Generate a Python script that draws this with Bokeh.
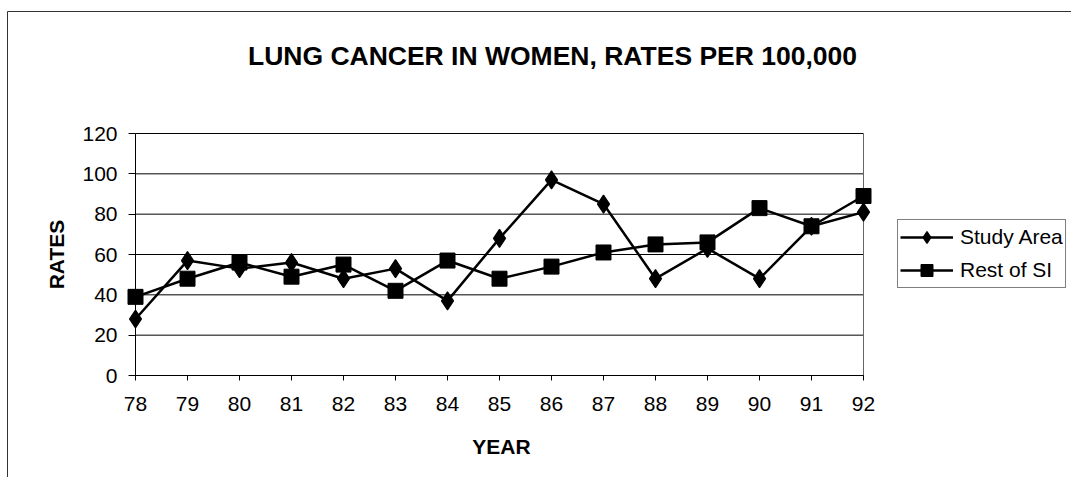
from bokeh.plotting import figure
from bokeh.models import (Range1d, FixedTicker, Legend, LegendItem, Label,
                          LinearAxis)
from bokeh.embed import file_html
from bokeh.resources import INLINE

years = [78, 79, 80, 81, 82, 83, 84, 85, 86, 87, 88, 89, 90, 91, 92]
study_area = [28, 57, 53, 56, 48, 53, 37, 68, 97, 85, 48, 63, 48, 74, 81]
rest_of_si = [39, 48, 56, 49, 55, 42, 57, 48, 54, 61, 65, 66, 83, 74, 89]
y_ticks = [0, 20, 40, 60, 80, 100, 120]

FONT = "Liberation Sans"

# layout (pixels on the canvas)
W, H = 1071, 477
PLOT_L, PLOT_R, PLOT_T, PLOT_B = 135, 863, 133, 375
x0, x1 = years[0], years[-1]
y0, y1 = y_ticks[0], y_ticks[-1]
px_x = (PLOT_R - PLOT_L) / (x1 - x0)
px_y = (PLOT_B - PLOT_T) / (y1 - y0)


def dx(px):
    return x0 + (px - PLOT_L) / px_x


def dy(py):
    return y0 + (PLOT_B - py) / px_y


p = figure(width=W, height=H, output_backend="svg", toolbar_location=None,
           x_range=Range1d(dx(0), dx(W)), y_range=Range1d(dy(H), dy(0)),
           x_axis_location=None, y_axis_location=None,
           min_border_left=0, min_border_right=0,
           min_border_top=0, min_border_bottom=0)
p.outline_line_color = None
p.xgrid.grid_line_color = None
p.ygrid.grid_line_color = None

# chart border (top and left edges of the chart area)
p.segment(x0=[dx(7), dx(7)], y0=[dy(11), dy(11)], x1=[dx(W + 10), dx(7)],
          y1=[dy(11), dy(H + 10)], line_color="#333333", line_width=1)

# horizontal gridlines of the plot area and its right border
p.segment(x0=[x0] * len(y_ticks), x1=[x1] * len(y_ticks), y0=y_ticks, y1=y_ticks,
          line_color="black", line_width=1)
p.segment(x0=[x1], x1=[x1], y0=[y0], y1=[y1], line_color="#666666", line_width=1)

xaxis = LinearAxis(fixed_location=y0, bounds=(x0, x1), ticker=FixedTicker(ticks=years))
yaxis = LinearAxis(fixed_location=x0, bounds=(y0, y1), ticker=FixedTicker(ticks=y_ticks))
for ax in (xaxis, yaxis):
    ax.axis_line_color = "black"
    ax.axis_line_width = 1
    ax.major_tick_line_color = "black"
    ax.major_tick_in = 0
    ax.minor_tick_line_color = None
    ax.major_label_text_font = FONT
    ax.major_label_text_font_size = "21px"
    ax.major_label_text_color = "black"
xaxis.major_tick_out = 5
xaxis.major_label_standoff = 16
yaxis.major_tick_out = 7
yaxis.major_label_standoff = 11
p.add_layout(xaxis, "below")
p.add_layout(yaxis, "left")

l1 = p.line(years, study_area, line_color="black", line_width=2.5)
m1 = p.scatter(years, study_area, marker="diamond", size=18,
               fill_color="black", line_color="black", line_width=1.2)
l2 = p.line(years, rest_of_si, line_color="black", line_width=2.5)
m2 = p.scatter(years, rest_of_si, marker="square", size=15,
               fill_color="black", line_color="black")

legend = Legend(items=[LegendItem(label="Study Area", renderers=[l1, m1]),
                       LegendItem(label="Rest of SI", renderers=[l2, m2])],
                location=(897, H - 288))
legend.label_text_font = FONT
legend.label_text_font_size = "21px"
legend.label_text_color = "black"
legend.glyph_width = 53
legend.glyph_height = 30
legend.label_standoff = 7
legend.spacing = 3
legend.padding = 2
legend.margin = 0
legend.border_line_color = "black"
legend.border_line_width = 1
legend.background_fill_color = "white"
p.add_layout(legend, "center")

p.add_layout(Label(x=dx(552), y=dy(55),
                   text="LUNG CANCER IN WOMEN, RATES PER 100,000",
                   text_font=FONT, text_font_size="26.5px", text_font_style="bold",
                   text_align="center", text_baseline="middle", text_color="black"))
p.add_layout(Label(x=dx(56), y=dy(254), text="RATES", angle=1.5707963,
                   text_font=FONT, text_font_size="21px", text_font_style="bold",
                   text_align="center", text_baseline="middle", text_color="black"))
p.add_layout(Label(x=dx(501), y=dy(446), text="YEAR",
                   text_font=FONT, text_font_size="21px", text_font_style="bold",
                   text_align="center", text_baseline="middle", text_color="black"))

open("out.html", "w").write(file_html(p, INLINE))
